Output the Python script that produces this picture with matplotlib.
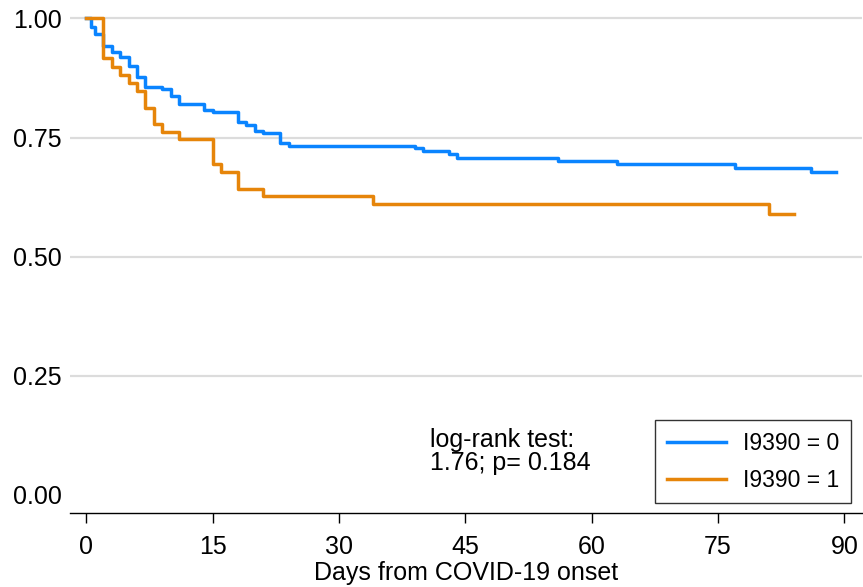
import matplotlib
matplotlib.use("Agg")
import matplotlib.pyplot as plt

# Kaplan-Meier estimates
days_0 = [0, 0.5, 1, 2, 3, 4, 5, 6, 7, 9, 10, 11, 14, 15, 18, 19, 20, 21, 23, 24,
          39, 40, 43, 44, 56, 63, 77, 86, 89]
surv_0 = [1.0, 0.982, 0.968, 0.943, 0.929, 0.918, 0.900, 0.876, 0.856, 0.851, 0.837,
          0.820, 0.807, 0.803, 0.782, 0.776, 0.764, 0.759, 0.739, 0.733, 0.727, 0.721,
          0.715, 0.708, 0.701, 0.694, 0.686, 0.677, 0.677]

days_1 = [0, 2, 3, 4, 5, 6, 7, 8, 9, 11, 15, 16, 18, 21, 34, 81, 84]
surv_1 = [1.0, 0.916, 0.898, 0.881, 0.865, 0.848, 0.813, 0.779, 0.761, 0.746, 0.694,
          0.677, 0.643, 0.627, 0.610, 0.589, 0.589]

x_ticks = [0, 15, 30, 45, 60, 75, 90]
y_ticks = [0.0, 0.25, 0.5, 0.75, 1.0]
y_labels = ["0.00", "0.25", "0.50", "0.75", "1.00"]
group_labels = ["I9390 = 0", "I9390 = 1"]

plt.rcParams['font.family'] = ['Liberation Sans', 'DejaVu Sans']

fig = plt.figure(figsize=(8.63, 5.87), dpi=100)
ax = fig.add_axes([0.081, 0.126, 0.918, 0.867])

# horizontal grid (none at zero)
for yv in y_ticks[1:]:
    ax.axhline(yv, color='#dcdcdc', lw=1.6, zorder=0)

ax.step(days_0, surv_0, where='post', color='#0A84FF', lw=2.5, label=group_labels[0])
ax.step(days_1, surv_1, where='post', color='#E6850A', lw=2.5, label=group_labels[1])

ax.set_xlim(-1.96, 92.1)
ax.set_ylim(-0.038, 1.03)
ax.set_xticks(x_ticks)
ax.set_yticks(y_ticks)
ax.set_yticklabels(y_labels)

for s in ['top', 'right', 'left']:
    ax.spines[s].set_visible(False)
ax.spines['bottom'].set_linewidth(1.0)
ax.tick_params(axis='x', length=7, width=1.0, labelsize=18, pad=9)
ax.tick_params(axis='y', length=0, labelsize=18, pad=6)

ax.set_xlabel('Days from COVID-19 onset', fontsize=18, labelpad=1)

ax.text(430 / 863, 1 - 428 / 587, 'log-rank test:\n1.76; p= 0.184', transform=fig.transFigure,
        fontsize=18, ha='left', va='top', linespacing=0.95)

leg = ax.legend(loc='lower right', bbox_to_anchor=(851 / 863, (587 - 503) / 587),
                bbox_transform=fig.transFigure, fontsize=16.5, frameon=True, fancybox=False,
                edgecolor='black', handlelength=2.6, handletextpad=0.75, labelspacing=0.6,
                borderpad=0.5, borderaxespad=0)
leg.get_frame().set_linewidth(1.0)

fig.savefig('out.png', dpi=100)
